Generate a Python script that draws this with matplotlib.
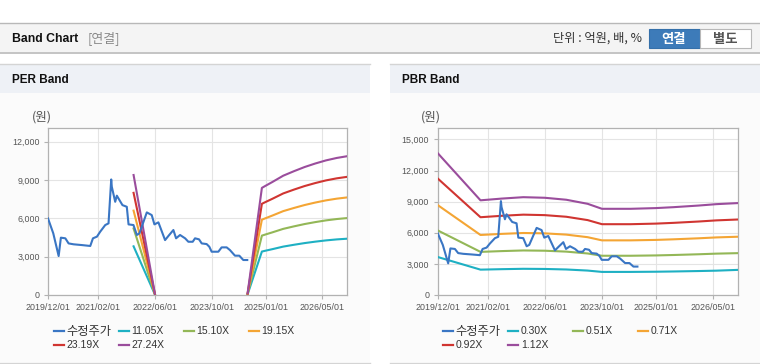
"""
band_chart.py - PER / PBR band chart (FnGuide style) recreation.
"""

import numpy as np
import pandas as pd
import matplotlib
matplotlib.use("Agg")
import matplotlib.pyplot as plt
import matplotlib.dates as mdates
from matplotlib.patches import Rectangle

plt.rcParams["font.family"] = ["Liberation Sans", "Noto Sans CJK KR"]
KR = ["Noto Sans CJK KR", "Liberation Sans"]

# ---- data -----------------------------------------------------------------
PRICE_DATES = [
    "2019-12-01", "2020-01-15", "2020-03-01", "2020-03-20", "2020-04-27",
    "2020-05-25", "2020-07-07", "2020-09-16", "2020-11-26", "2020-12-19",
    "2021-01-22", "2021-02-19", "2021-04-03", "2021-05-01", "2021-05-24",
    "2021-05-29", "2021-06-27", "2021-07-11", "2021-08-28", "2021-10-04",
    "2021-10-19", "2021-11-30", "2021-12-29", "2022-01-20", "2022-03-24",
    "2022-05-05", "2022-05-28", "2022-07-01", "2022-08-27", "2022-09-24",
    "2022-11-06", "2022-11-29", "2023-01-02", "2023-02-14", "2023-03-14",
    "2023-04-20", "2023-05-10", "2023-06-13", "2023-07-06", "2023-08-17",
    "2023-09-09", "2023-09-29", "2023-11-25", "2023-12-23", "2024-02-04",
    "2024-03-03", "2024-04-15", "2024-05-22", "2024-06-25", "2024-07-29",
]
PRICE = [
    6000, 4830, 3050, 4490, 4440, 4040, 3970, 3910, 3840, 4440,
    4570, 4960, 5480, 5610, 9050, 8480, 7300, 7780, 7040, 6910,
    5530, 5480, 4700, 4830, 6470, 6260, 5530, 5690, 4300, 4620,
    5090, 4440, 4700, 4440, 4170, 4170, 4440, 4360, 4040, 3990,
    3780, 3390, 3390, 3730, 3730, 3520, 3080, 3080, 2740, 2740,
]

PER_DATES = [
    "2021-12-01", "2022-06-01", "2023-03-01", "2024-08-01", "2024-12-01",
    "2025-01-01", "2025-03-01", "2025-06-01", "2025-09-01", "2025-12-01",
    "2026-03-01", "2026-06-01", "2026-09-01", "2026-11-28",
]
PER_LABELS = ["11.05X", "15.10X", "19.15X", "23.19X", "27.24X"]
nan = np.nan
PER_1105 = [3812, 44, nan, 55, 3403, 3470, 3591, 3790, 3934, 4066, 4177, 4276, 4354, 4409]
PER_1510 = [5210, 60, nan, 76, 4651, 4741, 4908, 5179, 5376, 5557, 5708, 5844, 5949, 6025]
PER_1915 = [6607, 77, nan, 96, 5898, 6013, 6224, 6568, 6817, 7047, 7239, 7411, 7545, 7641]
PER_2319 = [8001, 93, nan, 116, 7143, 7282, 7537, 7954, 8256, 8534, 8766, 8975, 9137, 9253]
PER_2724 = [9398, 109, nan, 136, 8390, 8553, 8853, 9343, 9697, 10024, 10297, 10542, 10733, 10869]

PBR_DATES = [
    "2019-12-01", "2020-12-01", "2021-06-01", "2021-12-01", "2022-06-01",
    "2022-12-01", "2023-06-01", "2023-10-01", "2024-06-01", "2025-01-01",
    "2025-06-01", "2026-01-01", "2026-06-01", "2026-11-28",
]
PBR_LABELS = ["0.30X", "0.51X", "0.71X", "0.92X", "1.12X"]
PBR_030 = [3669, 2445, 2490, 2526, 2511, 2460, 2355, 2226, 2226, 2244, 2268, 2310, 2346, 2420]
PBR_051 = [6237, 4157, 4233, 4294, 4269, 4182, 4004, 3784, 3784, 3815, 3856, 3927, 3988, 4034]
PBR_071 = [8683, 5787, 5893, 5978, 5943, 5822, 5574, 5268, 5268, 5311, 5368, 5467, 5552, 5616]
PBR_092 = [11252, 7498, 7636, 7746, 7700, 7544, 7222, 6826, 6826, 6882, 6955, 7084, 7194, 7277]
PBR_112 = [13698, 9128, 9296, 9430, 9374, 9184, 8792, 8310, 8310, 8378, 8467, 8624, 8758, 8859]

X_TICKS = ["2019-12-01", "2021-02-01", "2022-06-01", "2023-10-01", "2025-01-01", "2026-05-01"]
X_RANGE = ("2019-12-01", "2026-11-28")

PRICE_COLOR = "#3a76c4"
BAND_COLORS = ["#1eb0c3", "#93b757", "#f4a534", "#d03531", "#9a4d9c"]
GRID = "#e4e4e4"
SPINE = "#b2b2b2"
TICK_TXT = "#555555"

W, H = 760, 364


def draw_band(ax, band_dates, bands, ylim, yticks):
    px = pd.to_datetime(PRICE_DATES)
    bx = pd.to_datetime(band_dates)
    lines = [ax.plot(px, PRICE, color=PRICE_COLOR, lw=1.5, zorder=4)[0]]
    for vals, col in zip(bands, BAND_COLORS):
        lines.append(ax.plot(bx, vals, color=col, lw=1.5, zorder=3)[0])

    ax.set_xlim(pd.to_datetime(X_RANGE[0]), pd.to_datetime(X_RANGE[1]))
    ax.set_ylim(*ylim)
    ax.set_yticks(yticks)
    ax.set_yticklabels([f"{v:,}" for v in yticks])
    ax.set_xticks(pd.to_datetime(X_TICKS))
    ax.xaxis.set_major_formatter(mdates.DateFormatter("%Y/%m/%d"))
    ax.grid(True, color=GRID, lw=0.8)
    ax.set_axisbelow(True)
    ax.tick_params(axis="both", length=3, width=0.8, color=SPINE,
                   labelsize=6.4, labelcolor=TICK_TXT, pad=3)
    for s in ax.spines.values():
        s.set_color(SPINE)
        s.set_linewidth(0.9)
    ax.set_facecolor("white")
    return lines


def draw_legend(bg, x0, lines, labels):
    # 4 entries per row, fixed 65px slots
    for i, (ln, lab) in enumerate(zip(lines, labels)):
        x = x0 + (i % 4) * 65
        y = 331 if i < 4 else 344.5
        bg.plot([x, x + 10], [y, y], color=ln.get_color(), lw=1.6)
        if i == 0:
            bg.text(x + 12.5, y, lab, fontsize=8.8, color="#333333", va="center",
                    ha="left", family=KR)
        else:
            bg.text(x + 13, y, lab, fontsize=7.5, color="#333333", va="center", ha="left")


fig = plt.figure(figsize=(W / 100, H / 100), dpi=100)
fig.patch.set_facecolor("white")

bg = fig.add_axes([0, 0, 1, 1])
bg.set_xlim(0, W)
bg.set_ylim(H, 0)
bg.axis("off")

# top header bar
bg.add_patch(Rectangle((0, 23), W, 30, fc="#f4f4f4", ec="none"))
bg.plot([0, W], [22.5, 22.5], color="#b8b8b8", lw=1.0)
bg.plot([0, W], [53.3, 53.3], color="#c4c4c4", lw=1.4)
bg.text(12, 38.5, "Band Chart", fontsize=8.8, fontweight="bold", color="#111111", va="center")
bg.text(87.5, 38.5, "[연결]", fontsize=9.3, color="#8a8a8a", va="center", family=KR)
bg.text(642, 38.5, "단위 : 억원, 배, %", fontsize=8.8, color="#333333", va="center",
        ha="right", family=KR)
bg.add_patch(Rectangle((648.5, 28.5), 51, 19, fc="#3d7bb9", ec="#3570aa", lw=0.8))
bg.add_patch(Rectangle((699.5, 28.5), 51, 19, fc="white", ec="#b8b8b8", lw=0.8))
bg.text(674, 38.5, "연결", fontsize=9.6, fontweight="bold", color="white", va="center",
        ha="center", family=KR)
bg.text(725, 38.5, "별도", fontsize=9.6, fontweight="bold", color="#555555", va="center",
        ha="center", family=KR)

# the two panels
for px0, title in [(0, "PER Band"), (390, "PBR Band")]:
    bg.add_patch(Rectangle((px0, 93), 370, 269, fc="#fbfbfb", ec="none"))
    bg.add_patch(Rectangle((px0, 64.5), 370, 28.5, fc="#eef1f6", ec="none"))
    bg.plot([px0, px0 + 370], [64, 64], color="#d4d4d4", lw=1.0)
    bg.plot([px0, px0 + 370], [362.5, 362.5], color="#d4d4d4", lw=1.0)
    bg.text(px0 + 12, 80, title, fontsize=8.5, fontweight="bold", color="#111111", va="center")

bg.text(31.5, 117.5, "(원)", fontsize=9, color="#555555", va="center", family=KR)
bg.text(421, 117.5, "(원)", fontsize=9, color="#555555", va="center", family=KR)

ax1 = fig.add_axes([48 / W, 1 - 295 / H, 299 / W, 167 / H])
per_lines = draw_band(ax1, PER_DATES, [PER_1105, PER_1510, PER_1915, PER_2319, PER_2724],
                      (0, 13080), [0, 3000, 6000, 9000, 12000])

ax2 = fig.add_axes([437.5 / W, 1 - 295 / H, 300 / W, 167 / H])
pbr_lines = draw_band(ax2, PBR_DATES, [PBR_030, PBR_051, PBR_071, PBR_092, PBR_112],
                      (0, 16100), [0, 3000, 6000, 9000, 12000, 15000])

draw_legend(bg, 53.5, per_lines, ["수정주가"] + PER_LABELS)
draw_legend(bg, 443, pbr_lines, ["수정주가"] + PBR_LABELS)

fig.savefig("out.png", dpi=100)
plt.close(fig)
